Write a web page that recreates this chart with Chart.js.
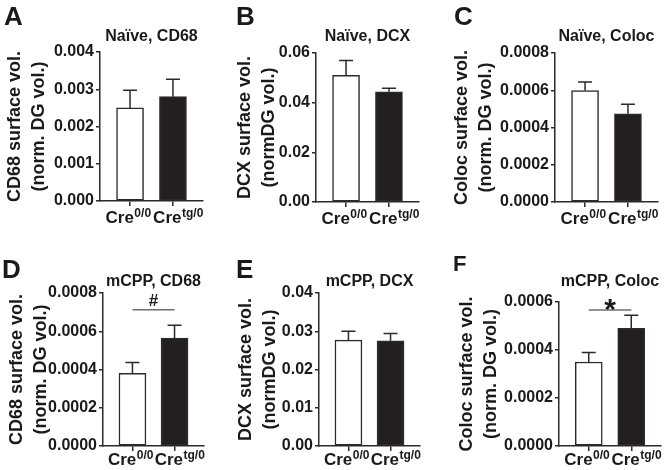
<!DOCTYPE html>
<html>
<head>
<meta charset="utf-8">
<script src="https://cdn.jsdelivr.net/npm/chart.js@4.4.0/dist/chart.umd.min.js"></script>
<style>
  body { margin: 0; background: #fff; }
  #wrap { position: relative; width: 664px; height: 470px; overflow: hidden; }
  #wrap canvas { position: absolute; }
</style>
</head>
<body>
<div id="wrap"></div>
<script>
// groups on the x axis (base text + superscript)
const groupBase = ['Cre', 'Cre']
const groupSup = ['0/0', 'tg/0']

const panelLetters = ['A', 'B', 'C', 'D', 'E', 'F']
const panelTitles = ['Naïve, CD68', 'Naïve, DCX', 'Naïve, Coloc', 'mCPP, CD68', 'mCPP, DCX', 'mCPP, Coloc']
const yTitles = [
  ['CD68 surface vol.', '(norm. DG vol.)'],
  ['DCX surface vol.', '(normDG vol.)'],
  ['Coloc surface vol.', '(norm. DG vol.)'],
  ['CD68 surface vol.', '(norm. DG vol.)'],
  ['DCX surface vol.', '(normDG vol.)'],
  ['Coloc surface vol.', '(norm. DG vol.)']
]

// means and SEM, [Cre0/0, Cretg/0]
const naiveCD68 = [0.0025, 0.0028]
const naiveCD68Sem = [0.00047, 0.00047]
const naiveDCX = [0.051, 0.0444]
const naiveDCXSem = [0.006, 0.0014]
const naiveColoc = [0.000598, 0.000474]
const naiveColocSem = [0.000046, 0.000051]
const mcppCD68 = [0.00038, 0.000564]
const mcppCD68Sem = [0.000056, 0.000068]
const mcppDCX = [0.0277, 0.0275]
const mcppDCXSem = [0.0023, 0.0019]
const mcppColoc = [0.00035, 0.00049]
const mcppColocSem = [0.00004, 0.000055]

// y tick labels per panel
const ticksA = [0, 0.001, 0.002, 0.003, 0.004]
const ticksB = [0, 0.02, 0.04, 0.06]
const ticksC = [0, 0.0002, 0.0004, 0.0006, 0.0008]
const ticksD = [0, 0.0002, 0.0004, 0.0006, 0.0008]
const ticksE = [0, 0.01, 0.02, 0.03, 0.04]
const ticksF = [0, 0.0002, 0.0004, 0.0006]
const tickDecimals = [3, 2, 4, 4, 2, 4]

// significance bars
const sigLevel = [null, null, null, 0.000712, null, 0.000567]
const sigMark = ['', '', '', '#', '', '*']

const means = [naiveCD68, naiveDCX, naiveColoc, mcppCD68, mcppDCX, mcppColoc]
const sems = [naiveCD68Sem, naiveDCXSem, naiveColocSem, mcppCD68Sem, mcppDCXSem, mcppColocSem]
const yTicks = [ticksA, ticksB, ticksC, ticksD, ticksE, ticksF]

// panel geometry, all in page pixels
const frames = [
  { left: 0,   top: 0,   w: 220, h: 235, axisX: 100, axisEnd: 203, plotTop: 52,  plotBottom: 201, titleY: 37,  yTitleX: 15,  letterX: 4,   letterY: 25,  letterSize: 26, labelGap: 22 },
  { left: 220, top: 0,   w: 220, h: 235, axisX: 316, axisEnd: 419, plotTop: 53,  plotBottom: 202, titleY: 37,  yTitleX: 245, letterX: 236, letterY: 25,  letterSize: 26, labelGap: 22 },
  { left: 440, top: 0,   w: 224, h: 235, axisX: 555, axisEnd: 658, plotTop: 53,  plotBottom: 202, titleY: 37,  yTitleX: 462, letterX: 454, letterY: 25,  letterSize: 26, labelGap: 22 },
  { left: 0,   top: 235, w: 220, h: 235, axisX: 103, axisEnd: 204, plotTop: 293, plotBottom: 446, titleY: 282, yTitleX: 17,  letterX: 2,   letterY: 278, letterSize: 26, labelGap: 19 },
  { left: 220, top: 235, w: 220, h: 235, axisX: 319, axisEnd: 420, plotTop: 293, plotBottom: 446, titleY: 282, yTitleX: 246, letterX: 236, letterY: 278, letterSize: 26, labelGap: 19 },
  { left: 440, top: 235, w: 224, h: 235, axisX: 559, axisEnd: 661, plotTop: 302, plotBottom: 446, titleY: 282, yTitleX: 467, letterX: 453, letterY: 271, letterSize: 22, labelGap: 19 }
]

const FONT = '"Liberation Sans", Arial, Helvetica, sans-serif'
const INK = '#1a1a1a'
const LINE = '#2b2b2b'

const panelExtras = {
  id: 'panelExtras',
  afterDatasetsDraw(chart, args, opts) {
    const ctx = chart.ctx
    const x = chart.scales.x, y = chart.scales.y
    ctx.save()
    ctx.strokeStyle = LINE
    ctx.lineWidth = 1.5
    // error bars, upper half only
    opts.means.forEach((m, i) => {
      const px = x.getPixelForValue(i)
      const y0 = y.getPixelForValue(m)
      const y1 = y.getPixelForValue(m + opts.sems[i])
      ctx.beginPath()
      ctx.moveTo(px, y0)
      ctx.lineTo(px, y1)
      ctx.moveTo(px - 7, y1)
      ctx.lineTo(px + 7, y1)
      ctx.stroke()
    })
    if (opts.sig != null) {
      const mx = x.getPixelForValue(0.5)
      const sy = y.getPixelForValue(opts.sig)
      ctx.fillStyle = INK
      ctx.textAlign = 'center'
      ctx.textBaseline = 'alphabetic'
      if (opts.mark == '*') {
        ctx.font = 'bold 30px ' + FONT
        ctx.fillText('*', mx, sy + 9)
      } else {
        ctx.font = 'bold 17px ' + FONT
        ctx.fillText(opts.mark, mx, sy - 4)
      }
    }
    ctx.restore()
  },
  afterDraw(chart, args, opts) {
    const ctx = chart.ctx
    const x = chart.scales.x
    const f = opts.frame
    ctx.save()
    ctx.fillStyle = INK
    ctx.textBaseline = 'alphabetic'
    ctx.textAlign = 'left'
    // x group labels with superscripts
    const base = chart.chartArea.bottom + f.labelGap
    const shift = [-2, 5]
    groupBase.forEach((t, i) => {
      ctx.font = 'bold 17px ' + FONT
      const w1 = ctx.measureText(t).width
      ctx.font = 'bold 12px ' + FONT
      const w2 = ctx.measureText(groupSup[i]).width
      const sx = x.getPixelForValue(i) - (w1 + w2) / 2 + shift[i]
      ctx.font = 'bold 17px ' + FONT
      ctx.fillText(t, sx, base)
      ctx.font = 'bold 12px ' + FONT
      ctx.fillText(groupSup[i], sx + w1 + 0.5, base - 6)
    })
    // panel letter
    ctx.font = 'bold ' + f.letterSize + 'px ' + FONT
    ctx.fillText(opts.letter, f.letterX, f.letterY)
    ctx.restore()
  }
}

function makePanel(i) {
  const f = frames[i]
  const canvas = document.createElement('canvas')
  canvas.width = f.w
  canvas.height = f.h
  canvas.style.left = f.left + 'px'
  canvas.style.top = f.top + 'px'
  document.getElementById('wrap').appendChild(canvas)

  const localTop = f.plotTop - f.top
  const localBottom = f.plotBottom - f.top
  const titleCenter = f.titleY - f.top
  const titleLH = 18
  const dec = tickDecimals[i]
  const tickVals = yTicks[i]

  const datasets = [{
    type: 'bar',
    data: means[i].map((v, k) => ({ x: k, y: v })),
    backgroundColor: ['#ffffff', '#231f20'],
    borderColor: LINE,
    borderWidth: 1.5,
    borderSkipped: false,
    barThickness: 27,
    order: 2
  }]
  if (sigLevel[i] != null) {
    datasets.push({
      type: 'line',
      data: [{ x: 0, y: sigLevel[i] }, { x: 1, y: sigLevel[i] }],
      borderColor: '#6e6e6e',
      borderWidth: 1.5,
      pointRadius: 0,
      order: 1
    })
  }

  new Chart(canvas, {
    type: 'bar',
    data: { datasets: datasets },
    options: {
      responsive: false,
      animation: false,
      events: [],
      layout: { padding: { left: 0, top: 0, bottom: 0, right: f.w - (f.axisEnd - f.left) } },
      plugins: {
        legend: { display: false },
        tooltip: { enabled: false },
        title: {
          display: true,
          text: panelTitles[i],
          fullSize: false,
          color: INK,
          font: { family: FONT, size: 16, weight: 'bold', lineHeight: titleLH + 'px' },
          padding: { top: titleCenter - titleLH / 2, bottom: localTop - (titleCenter + titleLH / 2) }
        },
        panelExtras: {
          means: means[i],
          sems: sems[i],
          sig: sigLevel[i],
          mark: sigMark[i],
          letter: panelLetters[i],
          frame: { letterX: f.letterX - f.left, letterY: f.letterY - f.top, letterSize: f.letterSize, labelGap: f.labelGap }
        }
      },
      scales: {
        x: {
          type: 'linear',
          offset: false,
          min: -0.7,
          max: 1.7,
          afterBuildTicks: s => { s.ticks = [{ value: 0 }, { value: 1 }] },
          afterFit: s => { s.height = f.h - localBottom },
          ticks: { display: false },
          grid: { offset: false, drawOnChartArea: false, drawTicks: true, tickLength: 5, color: LINE, lineWidth: 1.5 },
          border: { color: LINE, width: 1.5 }
        },
        y: {
          min: tickVals[0],
          max: tickVals[tickVals.length - 1],
          afterBuildTicks: s => { s.ticks = tickVals.map(v => ({ value: v })) },
          afterFit: s => { s.width = f.axisX - f.left },
          ticks: {
            color: INK,
            padding: 2,
            font: { family: FONT, size: 16, weight: 'bold' },
            callback: v => Number(v).toFixed(dec)
          },
          grid: { drawOnChartArea: false, drawTicks: true, tickLength: 4, color: LINE, lineWidth: 1.5 },
          border: { color: LINE, width: 1.5 },
          title: {
            display: true,
            text: yTitles[i],
            color: INK,
            font: { family: FONT, size: 18, weight: 'bold', lineHeight: '24px' },
            padding: { top: f.yTitleX - f.left - 12, bottom: 0 }
          }
        }
      }
    },
    plugins: [panelExtras]
  })
}

for (let i = 0; i < 6; i++) makePanel(i)
</script>
</body>
</html>
